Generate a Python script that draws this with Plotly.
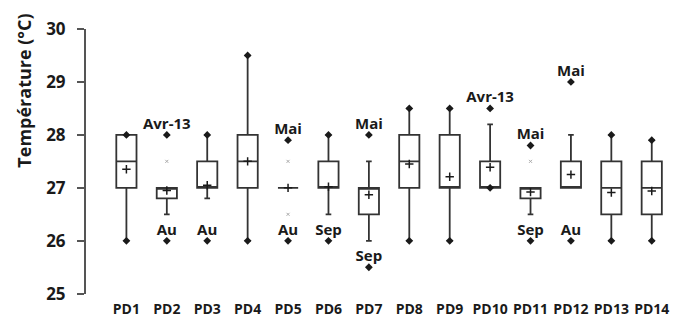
import plotly.graph_objects as go

categories = ["PD1", "PD2", "PD3", "PD4", "PD5", "PD6", "PD7",
              "PD8", "PD9", "PD10", "PD11", "PD12", "PD13", "PD14"]
q1 = [27.0, 26.8, 27.0, 27.0, 27.0, 27.0, 26.5, 27.0, 27.0, 27.0, 26.8, 27.0, 26.5, 26.5]
median = [27.5, 27.0, 27.0, 27.5, 27.0, 27.0, 27.0, 27.5, 27.0, 27.0, 27.0, 27.0, 27.0, 27.0]
q3 = [28.0, 27.0, 27.5, 28.0, 27.0, 27.5, 27.0, 28.0, 28.0, 27.5, 27.0, 27.5, 27.5, 27.5]
lower_whisker = [26.0, 26.5, 26.8, 26.0, 27.0, 26.5, 26.0, 26.0, 26.0, 27.0, 26.5, 27.0, 26.0, 26.0]
upper_whisker = [28.0, 27.0, 28.0, 29.5, 27.0, 28.0, 27.5, 28.5, 28.5, 28.2, 27.0, 28.0, 28.0, 27.9]
means = [27.35, 26.95, 27.05, 27.5, 27.0, 27.02, 26.87, 27.45, 27.21, 27.39, 26.92, 27.25, 26.91, 26.94]

# extreme values (min / max dots) with month labels
max_vals = [28.0, 28.0, 28.0, 29.5, 27.9, 28.0, 28.0, 28.5, 28.5, 28.5, 27.8, 29.0, 28.0, 27.9]
max_labels = ["", "Avr-13", "", "", "Mai", "", "Mai", "", "", "Avr-13", "Mai", "Mai", "", ""]
min_vals = [26.0, 26.0, 26.0, 26.0, 26.0, 26.0, 25.5, 26.0, 26.0, 27.0, 26.0, 26.0, 26.0, 26.0]
min_labels = ["", "Au", "Au", "", "Au", "Sep", "Sep", "", "", "", "Sep", "Au", "", ""]

# faint percentile markers
faint_idx = [1, 4, 4, 10]
faint_vals = [27.5, 27.5, 26.5, 27.5]

y_ticks = [25, 26, 27, 28, 29, 30]
y_title = "Température (°C)"

FONT = "Open Sans"
DARK = "#1a1a1a"
LINE = "#333333"

fig = go.Figure()
for i, c in enumerate(categories):
    fig.add_trace(go.Box(
        x=[i], q1=[q1[i]], median=[median[i]], q3=[q3[i]],
        lowerfence=[lower_whisker[i]], upperfence=[upper_whisker[i]],
        width=0.5, whiskerwidth=0.28,
        fillcolor="rgba(255,255,255,0)",
        line=dict(color=LINE, width=1.8),
        boxpoints=False, showlegend=False, hoverinfo="skip",
    ))

xs = list(range(len(categories)))
fig.add_trace(go.Scatter(
    x=xs, y=means, mode="markers", showlegend=False,
    marker=dict(symbol="cross-thin", size=6, line=dict(color=DARK, width=1.5)),
))
for vals, labels in ((max_vals, max_labels), (min_vals, min_labels)):
    fig.add_trace(go.Scatter(
        x=xs, y=vals, mode="markers", showlegend=False,
        marker=dict(symbol="diamond", size=6, color=DARK),
    ))
    fig.add_trace(go.Scatter(
        x=xs, y=vals, mode="markers+text", text=labels,
        textposition="top center", showlegend=False,
        textfont=dict(family=FONT, size=15, color=DARK, weight="bold"),
        marker=dict(size=2, opacity=0),
    ))
fig.add_trace(go.Scatter(
    x=faint_idx, y=faint_vals, mode="markers", showlegend=False,
    marker=dict(symbol="x-thin", size=3, line=dict(color="#aaaaaa", width=1)),
))

fig.add_annotation(
    text=y_title, xref="paper", yref="paper", x=-0.105, y=0.783,
    xanchor="center", yanchor="middle", textangle=-90, showarrow=False,
    font=dict(family=FONT, size=18, color=DARK, weight="bold"),
)

fig.update_layout(
    width=680, height=324,
    margin=dict(l=86, r=4, t=29, b=0),
    plot_bgcolor="white", paper_bgcolor="white",
    font=dict(family=FONT, color=DARK),
    xaxis=dict(
        range=[-1, 13.6], tickmode="array", tickvals=xs, ticktext=categories,
        showgrid=False, zeroline=False, showline=False, ticks="",
        tickfont=dict(family=FONT, size=14, color=DARK, weight="bold"),
        anchor="free", position=0.05,
    ),
    yaxis=dict(
        range=[25, 30], domain=[0.0678, 1], tickvals=y_ticks,
        showgrid=False, zeroline=False,
        showline=True, linecolor="#555555", linewidth=2,
        ticks="outside", ticklen=7, tickwidth=2, tickcolor="#555555",
        ticklabelstandoff=8,
        tickfont=dict(family=FONT, size=17, color=DARK, weight="bold"),
    ),
)

fig.write_html("out.html")
